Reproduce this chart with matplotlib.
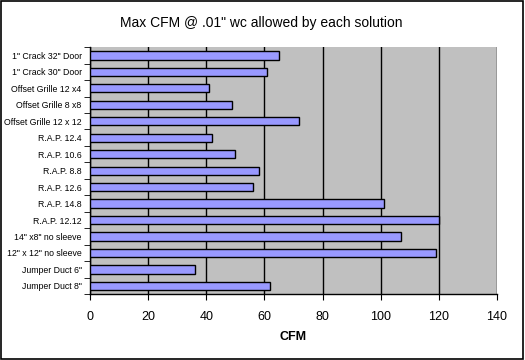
import matplotlib.pyplot as plt
import matplotlib.patches as patches
import numpy as np

labels = ['1" Crack 32" Door', '1" Crack 30" Door', 'Offset Grille 12 x4',
          'Offset Grille 8 x8', 'Offset Grille 12 x 12', 'R.A.P. 12.4',
          'R.A.P. 10.6', 'R.A.P. 8.8', 'R.A.P. 12.6', 'R.A.P. 14.8',
          'R.A.P. 12.12', '14" x8" no sleeve', '12" x 12" no sleeve',
          'Jumper Duct 6"', 'Jumper Duct 8"']
cfm = [65, 61, 41, 49, 72, 42, 50, 58, 56, 101, 120, 107, 119, 36, 62]
xticks = [0, 20, 40, 60, 80, 100, 120, 140]

plt.rcParams['font.family'] = ['Liberation Sans', 'DejaVu Sans']

fig = plt.figure(figsize=(5.25, 3.6), dpi=100)
ax = fig.add_axes([0.1714, 0.183, 0.7753, 0.686])
ax.set_facecolor('#c0c0c0')

# outer border of the whole chart
fig.add_artist(patches.Rectangle((0.002, 0.003), 0.994, 0.993, transform=fig.transFigure,
                                 fill=False, edgecolor='black', linewidth=1.2))

y = np.arange(len(labels))
ax.barh(y, cfm, height=0.5, color='#9999ff', edgecolor='black', linewidth=1, zorder=3)

ax.set_xlim(0, 140)
ax.set_ylim(len(labels) - 0.5, -0.5)
ax.set_xticks(xticks)
ax.tick_params(axis='x', labelsize=9, length=4, direction='out', pad=8)
ax.xaxis.grid(True, color='black', linewidth=1, zorder=1)

ax.set_yticks(y)
ax.set_yticklabels(labels, fontsize=6.3)
ax.tick_params(axis='y', length=0, pad=6)
ax.set_yticks(np.arange(-0.5, len(labels), 1), minor=True)
ax.tick_params(axis='y', which='minor', length=4, direction='out')

for s in ['top', 'right']:
    ax.spines[s].set_visible(False)
ax.spines['left'].set_linewidth(1)
ax.spines['bottom'].set_linewidth(1)

ax.set_xlabel('CFM', fontsize=9, fontweight='bold', labelpad=6)
fig.text(0.497, 0.936, 'Max CFM @ .01" wc allowed by each solution',
         ha='center', va='center', fontsize=10)

fig.savefig('out.png', dpi=100)
